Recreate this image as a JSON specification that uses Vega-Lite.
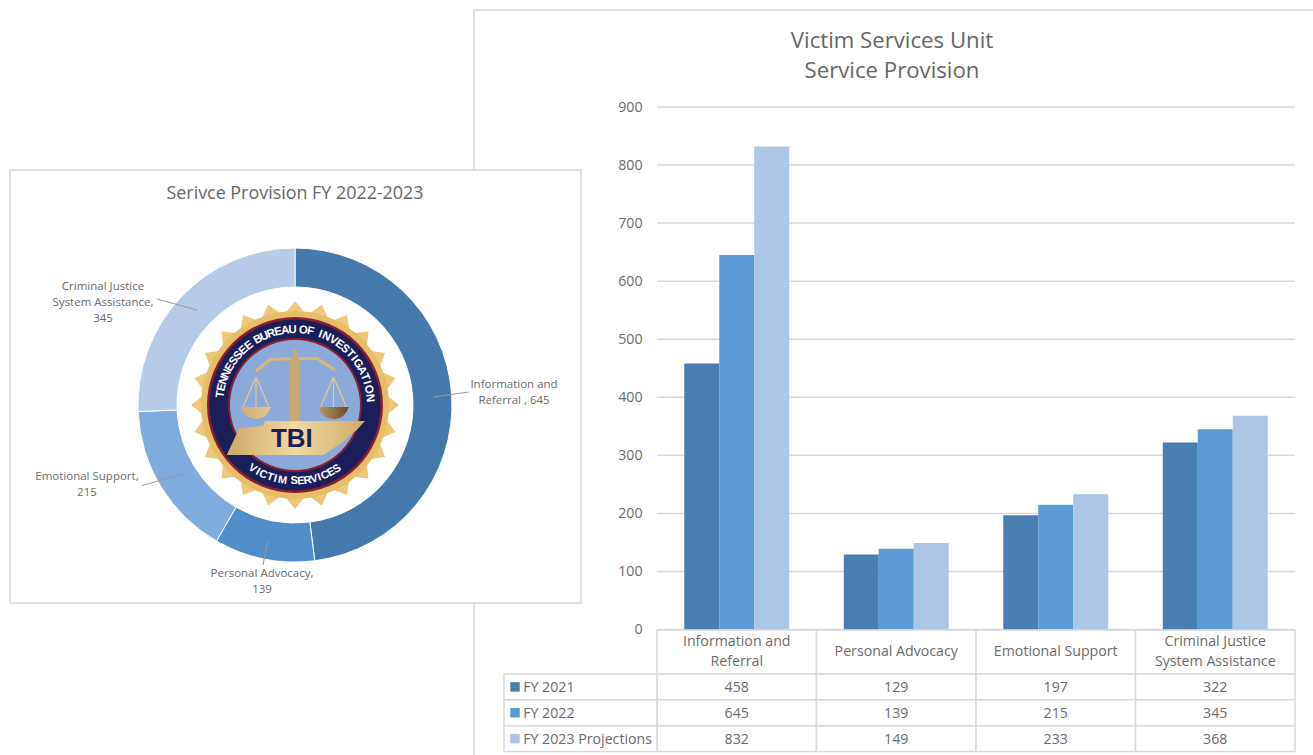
{
"$schema":"https://vega.github.io/schema/vega-lite/v6.json",
"width":1313,"height":755,"padding":0,"autosize":{"type":"none"},"background":"white",
"config":{"view":{"stroke":null},"text":{"font":"Open Sans","color":"#6b6b6b"}},
"datasets":{
"bars":[
{"category":"Information and Referral","series":"FY 2021","value":458},{"category":"Information and Referral","series":"FY 2022","value":645},{"category":"Information and Referral","series":"FY 2023 Projections","value":832},
{"category":"Personal Advocacy","series":"FY 2021","value":129},{"category":"Personal Advocacy","series":"FY 2022","value":139},{"category":"Personal Advocacy","series":"FY 2023 Projections","value":149},
{"category":"Emotional Support","series":"FY 2021","value":197},{"category":"Emotional Support","series":"FY 2022","value":215},{"category":"Emotional Support","series":"FY 2023 Projections","value":233},
{"category":"Criminal Justice System Assistance","series":"FY 2021","value":322},{"category":"Criminal Justice System Assistance","series":"FY 2022","value":345},{"category":"Criminal Justice System Assistance","series":"FY 2023 Projections","value":368}],
"heads":[{"category":"Information and Referral","head":"Information and\nReferral","lines":2},{"category":"Personal Advocacy","head":"Personal Advocacy","lines":1},{"category":"Emotional Support","head":"Emotional Support","lines":1},{"category":"Criminal Justice System Assistance","head":"Criminal Justice\nSystem Assistance","lines":2}],
"ticks":[{"v":0},{"v":100},{"v":200},{"v":300},{"v":400},{"v":500},{"v":600},{"v":700},{"v":800},{"v":900}],
"donut":[{"slice":"Information and Referral","value":645,"rank":1},{"slice":"Personal Advocacy","value":139,"rank":2},{"slice":"Emotional Support","value":215,"rank":3},{"slice":"Criminal Justice System Assistance","value":345,"rank":4}],
"one":[{"k":"seal"}],
"top":[{"ch":"T","i":0},{"ch":"E","i":1},{"ch":"N","i":2},{"ch":"N","i":3},{"ch":"E","i":4},{"ch":"S","i":5},{"ch":"S","i":6},{"ch":"E","i":7},{"ch":"E","i":8},{"ch":"B","i":9.5},{"ch":"U","i":10.5},{"ch":"R","i":11.5},{"ch":"E","i":12.5},{"ch":"A","i":13.5},{"ch":"U","i":14.5},{"ch":"O","i":16},{"ch":"F","i":17},{"ch":"I","i":18.4},{"ch":"N","i":19.3},{"ch":"V","i":20.4},{"ch":"E","i":21.4},{"ch":"S","i":22.4},{"ch":"T","i":23.4},{"ch":"I","i":24.2},{"ch":"G","i":25.1},{"ch":"A","i":26.2},{"ch":"T","i":27.2},{"ch":"I","i":28},{"ch":"O","i":29},{"ch":"N","i":30.2}],
"bottom":[{"ch":"V","i":0},{"ch":"I","i":0.9},{"ch":"C","i":1.8},{"ch":"T","i":2.9},{"ch":"I","i":3.7},{"ch":"M","i":4.8},{"ch":"S","i":6.5},{"ch":"E","i":7.5},{"ch":"R","i":8.5},{"ch":"V","i":9.5},{"ch":"I","i":10.3},{"ch":"C","i":11.2},{"ch":"E","i":12.2},{"ch":"S","i":13.2}]
},
"resolve":{"scale":{"x":"independent","y":"independent","theta":"independent","color":"independent","angle":"independent","xOffset":"independent"},"axis":{"x":"independent","y":"independent"}},
"layer":[
{"data":{"name":"one"},"mark":{"type":"rect","fillOpacity":0,"stroke":"#d9d9d9","strokeWidth":1.5},"encoding":{
 "x":{"datum":0,"type":"quantitative","axis":null,"scale":{"domain":[0,1],"range":[474,1340]}},"x2":{"datum":1},
 "y":{"datum":0,"type":"quantitative","axis":null,"scale":{"domain":[0,1],"range":[10,780]}},"y2":{"datum":1}}},
{"data":{"name":"one"},"mark":{"type":"text","fontSize":22.2,"lineBreak":"\n","lineHeight":30,"align":"center","baseline":"middle","color":"#666666"},"encoding":{
 "text":{"value":"Victim Services Unit\nService Provision"},
 "x":{"datum":0.5,"type":"quantitative","axis":null,"scale":{"domain":[0,1],"range":[474,1310]}},
 "y":{"datum":0.5,"type":"quantitative","axis":null,"scale":{"domain":[0,1],"range":[11,71]}}}},
{"data":{"name":"ticks"},"mark":{"type":"rule","color":"#d9d9d9","strokeWidth":1.5},"encoding":{
 "y":{"field":"v","type":"quantitative","scale":{"domain":[0,900],"range":[629.5,107]},
  "axis":{"orient":"left","offset":-657,"values":[0,100,200,300,400,500,600,700,800,900],"domain":false,"ticks":false,"grid":false,"title":null,"labelFont":"Open Sans","labelFontSize":14.2,"labelColor":"#6b6b6b","labelPadding":15}},
 "x":{"datum":0,"type":"quantitative","axis":null,"scale":{"domain":[0,1],"range":[657,1295]}},"x2":{"datum":1}}},
{"data":{"name":"bars"},"mark":{"type":"bar"},"encoding":{
 "x":{"field":"category","type":"nominal","axis":null,"sort":null,"scale":{"type":"band","domain":["Information and Referral","Personal Advocacy","Emotional Support","Criminal Justice System Assistance"],"range":[657,1295],"paddingInner":0.342,"paddingOuter":0.171}},
 "xOffset":{"field":"series","type":"nominal","scale":{"domain":["FY 2021","FY 2022","FY 2023 Projections"]}},
 "y":{"field":"value","type":"quantitative","axis":null,"scale":{"domain":[0,900],"range":[629.5,107]}},
 "color":{"field":"series","type":"nominal","legend":null,"scale":{"domain":["FY 2021","FY 2022","FY 2023 Projections"],"range":["#4a7eb0","#5b9bd5","#adc6e6"]}}}},
{"data":{"name":"heads"},"mark":{"type":"rect","fill":"white","stroke":"#d9d9d9","strokeWidth":1.5},"encoding":{
 "x":{"field":"category","type":"nominal","axis":null,"scale":{"type":"band","domain":["Information and Referral","Personal Advocacy","Emotional Support","Criminal Justice System Assistance"],"range":[657,1295],"padding":0}},
 "y":{"datum":0,"type":"quantitative","axis":null,"scale":{"domain":[0,1],"range":[630,674]}},"y2":{"datum":1}}},
{"data":{"name":"heads"},"transform":[{"filter":"datum.lines===2"}],"mark":{"type":"text","fontSize":14.2,"lineBreak":"\n","lineHeight":20,"align":"center","baseline":"middle"},"encoding":{
 "text":{"field":"head"},
 "x":{"field":"category","type":"nominal","axis":null,"scale":{"type":"band","domain":["Information and Referral","Personal Advocacy","Emotional Support","Criminal Justice System Assistance"],"range":[657,1295],"padding":0}},
 "y":{"datum":0.5,"type":"quantitative","axis":null,"scale":{"domain":[0,1],"range":[620,664]}}}},
{"data":{"name":"heads"},"transform":[{"filter":"datum.lines===1"}],"mark":{"type":"text","fontSize":14.2,"align":"center","baseline":"middle"},"encoding":{
 "text":{"field":"head"},
 "x":{"field":"category","type":"nominal","axis":null,"scale":{"type":"band","domain":["Information and Referral","Personal Advocacy","Emotional Support","Criminal Justice System Assistance"],"range":[657,1295],"padding":0}},
 "y":{"datum":0.5,"type":"quantitative","axis":null,"scale":{"domain":[0,1],"range":[630,674]}}}},
{"data":{"name":"bars"},"mark":{"type":"rect","fill":"white","stroke":"#d9d9d9","strokeWidth":1.5},"encoding":{
 "x":{"field":"category","type":"nominal","axis":null,"scale":{"type":"band","domain":["Information and Referral","Personal Advocacy","Emotional Support","Criminal Justice System Assistance"],"range":[657,1295],"padding":0}},
 "y":{"field":"series","type":"nominal","axis":null,"scale":{"type":"band","domain":["FY 2021","FY 2022","FY 2023 Projections"],"range":[674,751.5],"padding":0}}}},
{"data":{"name":"bars"},"mark":{"type":"text","fontSize":14.2,"align":"center","baseline":"middle"},"encoding":{
 "text":{"field":"value","type":"quantitative"},
 "x":{"field":"category","type":"nominal","axis":null,"scale":{"type":"band","domain":["Information and Referral","Personal Advocacy","Emotional Support","Criminal Justice System Assistance"],"range":[657,1295],"padding":0}},
 "y":{"field":"series","type":"nominal","axis":null,"scale":{"type":"band","domain":["FY 2021","FY 2022","FY 2023 Projections"],"range":[675,752.5],"padding":0}}}},
{"data":{"name":"bars"},"transform":[{"filter":"datum.category==='Personal Advocacy'"}],"mark":{"type":"rect","fill":"white","stroke":"#d9d9d9","strokeWidth":1.5},"encoding":{
 "x":{"datum":0,"type":"quantitative","axis":null,"scale":{"domain":[0,1],"range":[504,657]}},"x2":{"datum":1},
 "y":{"field":"series","type":"nominal","axis":null,"scale":{"type":"band","domain":["FY 2021","FY 2022","FY 2023 Projections"],"range":[674,751.5],"padding":0}}}},
{"data":{"name":"bars"},"transform":[{"filter":"datum.category==='Personal Advocacy'"}],"mark":{"type":"point","shape":"square","filled":true,"size":90,"opacity":1},"encoding":{
 "x":{"datum":0.072,"type":"quantitative","axis":null,"scale":{"domain":[0,1],"range":[504,657]}},
 "y":{"field":"series","type":"nominal","axis":null,"scale":{"type":"band","domain":["FY 2021","FY 2022","FY 2023 Projections"],"range":[674,751.5],"padding":0}},
 "color":{"field":"series","type":"nominal","legend":null,"scale":{"domain":["FY 2021","FY 2022","FY 2023 Projections"],"range":["#4a7eb0","#5b9bd5","#adc6e6"]}}}},
{"data":{"name":"bars"},"transform":[{"filter":"datum.category==='Personal Advocacy'"}],"mark":{"type":"text","fontSize":14.2,"align":"left","baseline":"middle"},"encoding":{
 "text":{"field":"series"},
 "x":{"datum":0.125,"type":"quantitative","axis":null,"scale":{"domain":[0,1],"range":[504,657]}},
 "y":{"field":"series","type":"nominal","axis":null,"scale":{"type":"band","domain":["FY 2021","FY 2022","FY 2023 Projections"],"range":[675,752.5],"padding":0}}}},
{"data":{"name":"one"},"mark":{"type":"rect","fill":"white","stroke":"#d9d9d9","strokeWidth":1.5},"encoding":{
 "x":{"datum":0,"type":"quantitative","axis":null,"scale":{"domain":[0,1],"range":[10,581]}},"x2":{"datum":1},
 "y":{"datum":0,"type":"quantitative","axis":null,"scale":{"domain":[0,1],"range":[170,603]}},"y2":{"datum":1}}},
{"data":{"name":"one"},"mark":{"type":"text","fontSize":17.9,"align":"center","baseline":"middle","color":"#666666"},"encoding":{
 "text":{"value":"Serivce Provision FY 2022-2023"},
 "x":{"datum":0,"type":"quantitative","axis":null,"scale":{"domain":[-1,1],"range":[138,452]}},
 "y":{"datum":1.344,"type":"quantitative","axis":null,"scale":{"domain":[-1,1],"range":[562,248]}}}},
{"data":{"name":"donut"},"mark":{"type":"arc","innerRadius":118,"outerRadius":157,"stroke":"white","strokeWidth":1},"encoding":{
 "theta":{"field":"value","type":"quantitative","stack":true},
 "order":{"field":"rank","type":"quantitative"},
 "color":{"field":"slice","type":"nominal","legend":null,"scale":{"domain":["Information and Referral","Personal Advocacy","Emotional Support","Criminal Justice System Assistance"],"range":["#4679ab","#518dc9","#80abdd","#b5cbe7"]}},
 "x":{"datum":0,"type":"quantitative","axis":null,"scale":{"domain":[-1,1],"range":[138,452]}},
 "y":{"datum":0,"type":"quantitative","axis":null,"scale":{"domain":[-1,1],"range":[562,248]}}}},
{"data":{"name":"one"},"mark":{"type":"point","filled":true,"opacity":1,"size":4,"color":"#ecc878","shape":"M0,-104 L11.7,-89.2 L26.9,-100.5 L34.4,-83.2 L52,-90.1 L54.8,-71.4 L73.5,-73.5 L71.4,-54.8 L90.1,-52 L83.2,-34.4 L100.5,-26.9 L89.2,-11.7 L104,0 L89.2,11.7 L100.5,26.9 L83.2,34.4 L90.1,52 L71.4,54.8 L73.5,73.5 L54.8,71.4 L52,90.1 L34.4,83.2 L26.9,100.5 L11.7,89.2 L0,104 L-11.7,89.2 L-26.9,100.5 L-34.4,83.2 L-52,90.1 L-54.8,71.4 L-73.5,73.5 L-71.4,54.8 L-90.1,52 L-83.2,34.4 L-100.5,26.9 L-89.2,11.7 L-104,0 L-89.2,-11.7 L-100.5,-26.9 L-83.2,-34.4 L-90.1,-52 L-71.4,-54.8 L-73.5,-73.5 L-54.8,-71.4 L-52,-90.1 L-34.4,-83.2 L-26.9,-100.5 L-11.7,-89.2 Z"},"encoding":{
 "x":{"datum":0,"type":"quantitative","axis":null,"scale":{"domain":[-1,1],"range":[138,452]}},
 "y":{"datum":0,"type":"quantitative","axis":null,"scale":{"domain":[-1,1],"range":[562,248]}}}},
{"data":{"name":"one"},"mark":{"type":"point","filled":true,"opacity":1,"shape":"circle","size":35344,"color":"#e6bd68"},"encoding":{
 "x":{"datum":0,"type":"quantitative","axis":null,"scale":{"domain":[-1,1],"range":[138,452]}},
 "y":{"datum":0,"type":"quantitative","axis":null,"scale":{"domain":[-1,1],"range":[562,248]}}}},
{"data":{"name":"one"},"mark":{"type":"point","filled":true,"opacity":1,"shape":"circle","size":30976,"color":"#8a1f2e"},"encoding":{
 "x":{"datum":0,"type":"quantitative","axis":null,"scale":{"domain":[-1,1],"range":[138,452]}},
 "y":{"datum":0,"type":"quantitative","axis":null,"scale":{"domain":[-1,1],"range":[562,248]}}}},
{"data":{"name":"one"},"mark":{"type":"point","filled":true,"opacity":1,"shape":"circle","size":29241,"color":"#1b1e58"},"encoding":{
 "x":{"datum":0,"type":"quantitative","axis":null,"scale":{"domain":[-1,1],"range":[138,452]}},
 "y":{"datum":0,"type":"quantitative","axis":null,"scale":{"domain":[-1,1],"range":[562,248]}}}},
{"data":{"name":"one"},"mark":{"type":"point","filled":true,"opacity":1,"shape":"circle","size":17956,"color":"#8a1f2e"},"encoding":{
 "x":{"datum":0,"type":"quantitative","axis":null,"scale":{"domain":[-1,1],"range":[138,452]}},
 "y":{"datum":0,"type":"quantitative","axis":null,"scale":{"domain":[-1,1],"range":[562,248]}}}},
{"data":{"name":"one"},"mark":{"type":"point","filled":true,"opacity":1,"shape":"circle","size":16900,"color":"#8ba9d9"},"encoding":{
 "x":{"datum":0,"type":"quantitative","axis":null,"scale":{"domain":[-1,1],"range":[138,452]}},
 "y":{"datum":0,"type":"quantitative","axis":null,"scale":{"domain":[-1,1],"range":[562,248]}}}},
{"data":{"name":"one"},"mark":{"type":"point","filled":false,"opacity":1,"size":4,"stroke":"#d9b676","strokeWidth":3,"shape":"M-39,-34 L-24.3,-45.7 L21.7,-46.7 L40,-35"},"encoding":{
 "x":{"datum":0,"type":"quantitative","axis":null,"scale":{"domain":[-1,1],"range":[138,452]}},
 "y":{"datum":0,"type":"quantitative","axis":null,"scale":{"domain":[-1,1],"range":[562,248]}}}},
{"data":{"name":"one"},"mark":{"type":"point","filled":false,"opacity":1,"size":4,"stroke":"#e3c98c","strokeWidth":1.2,"shape":"M-39,-28 L-52,2 M-39,-28 L-26,2 M-39,-28 L-39,2 M38.5,-28 L25.5,2 M38.5,-28 L51.5,2 M38.5,-28 L38.5,2"},"encoding":{
 "x":{"datum":0,"type":"quantitative","axis":null,"scale":{"domain":[-1,1],"range":[138,452]}},
 "y":{"datum":0,"type":"quantitative","axis":null,"scale":{"domain":[-1,1],"range":[562,248]}}}},
{"data":{"name":"one"},"mark":{"type":"point","filled":true,"opacity":1,"size":4,"fill":{"gradient":"linear","x1":0,"x2":1,"y1":0,"y2":0,"stops":[{"offset":0,"color":"#cfae70"},{"offset":0.5,"color":"#f0dca6"},{"offset":1,"color":"#6e4a20"}]},"shape":"M-54,2 L-24,2 Q-28,14 -39,14 Q-50,14 -54,2 Z M23.5,2 L53.5,2 Q50,14 38.5,14 Q27,14 23.5,2 Z"},"encoding":{
 "x":{"datum":0,"type":"quantitative","axis":null,"scale":{"domain":[-1,1],"range":[138,452]}},
 "y":{"datum":0,"type":"quantitative","axis":null,"scale":{"domain":[-1,1],"range":[562,248]}}}},
{"data":{"name":"one"},"mark":{"type":"point","filled":true,"opacity":1,"size":4,"fill":"#c9a970","shape":"M-5,18 L-5,-44 L-2,-50 L-2,-54 L0,-57 L2,-54 L2,-50 L5,-44 L5,18 Z M-6,-34 L6,-34 L6,-31 L-6,-31 Z M-6,4 L6,4 L6,7 L-6,7 Z"},"encoding":{
 "x":{"datum":0,"type":"quantitative","axis":null,"scale":{"domain":[-1,1],"range":[138,452]}},
 "y":{"datum":0,"type":"quantitative","axis":null,"scale":{"domain":[-1,1],"range":[562,248]}}}},
{"data":{"name":"one"},"mark":{"type":"point","filled":true,"opacity":1,"size":4,"fill":{"gradient":"linear","x1":0,"x2":1,"y1":0,"y2":0,"stops":[{"offset":0,"color":"#cfa866"},{"offset":0.5,"color":"#f0d9a4"},{"offset":1,"color":"#d2aa68"}]},"shape":"M-68.3,50 L-55.7,23.3 L-31.7,20.7 L-30,16 L70,16 L61.7,25 L55,30 L48.3,36.7 L33.3,46.7 L28.3,50 Z"},"encoding":{
 "x":{"datum":0,"type":"quantitative","axis":null,"scale":{"domain":[-1,1],"range":[138,452]}},
 "y":{"datum":0,"type":"quantitative","axis":null,"scale":{"domain":[-1,1],"range":[562,248]}}}},
{"data":{"name":"one"},"mark":{"type":"text","font":"Liberation Sans","fontWeight":"bold","fontSize":26,"align":"center","baseline":"middle","color":"#1b1e58"},"encoding":{
 "text":{"value":"TBI"},
 "x":{"datum":-0.02,"type":"quantitative","axis":null,"scale":{"domain":[-1,1],"range":[138,452]}},
 "y":{"datum":-0.215,"type":"quantitative","axis":null,"scale":{"domain":[-1,1],"range":[562,248]}}}},
{"data":{"name":"top"},"mark":{"type":"text","font":"Liberation Sans","fontWeight":"bold","fontSize":11.5,"radius":75,"align":"center","baseline":"middle","color":"white"},"encoding":{
 "text":{"field":"ch"},
 "theta":{"field":"i","type":"quantitative","stack":null,"scale":{"domain":[0,30.2],"range":[-1.43,1.48]}},
 "angle":{"field":"i","type":"quantitative","scale":{"domain":[0,30.2],"range":[-82,85]}},
 "x":{"datum":0,"type":"quantitative","axis":null,"scale":{"domain":[-1,1],"range":[138,452]}},
 "y":{"datum":0,"type":"quantitative","axis":null,"scale":{"domain":[-1,1],"range":[562,248]}}}},
{"data":{"name":"bottom"},"mark":{"type":"text","font":"Liberation Sans","fontWeight":"bold","fontSize":11,"radius":76.5,"align":"center","baseline":"middle","color":"white"},"encoding":{
 "text":{"field":"ch"},
 "theta":{"field":"i","type":"quantitative","stack":null,"scale":{"domain":[0,13.2],"range":[3.73,2.56]}},
 "angle":{"field":"i","type":"quantitative","scale":{"domain":[0,13.2],"range":[34,-35]}},
 "x":{"datum":0,"type":"quantitative","axis":null,"scale":{"domain":[-1,1],"range":[138,452]}},
 "y":{"datum":0,"type":"quantitative","axis":null,"scale":{"domain":[-1,1],"range":[562,248]}}}},
{"data":{"name":"one"},"mark":{"type":"rule","color":"#999999","strokeWidth":1},"encoding":{
 "x":{"datum":0.885,"type":"quantitative","axis":null,"scale":{"domain":[-1,1],"range":[138,452]}},"x2":{"datum":1.108},
 "y":{"datum":0.051,"type":"quantitative","axis":null,"scale":{"domain":[-1,1],"range":[562,248]}},"y2":{"datum":0.083}}},
{"data":{"name":"one"},"mark":{"type":"rule","color":"#999999","strokeWidth":1},"encoding":{
 "x":{"datum":-0.624,"type":"quantitative","axis":null,"scale":{"domain":[-1,1],"range":[138,452]}},"x2":{"datum":-0.879},
 "y":{"datum":0.605,"type":"quantitative","axis":null,"scale":{"domain":[-1,1],"range":[562,248]}},"y2":{"datum":0.675}}},
{"data":{"name":"one"},"mark":{"type":"rule","color":"#999999","strokeWidth":1},"encoding":{
 "x":{"datum":-0.713,"type":"quantitative","axis":null,"scale":{"domain":[-1,1],"range":[138,452]}},"x2":{"datum":-0.975},
 "y":{"datum":-0.439,"type":"quantitative","axis":null,"scale":{"domain":[-1,1],"range":[562,248]}},"y2":{"datum":-0.513}}},
{"data":{"name":"one"},"mark":{"type":"rule","color":"#999999","strokeWidth":1},"encoding":{
 "x":{"datum":-0.172,"type":"quantitative","axis":null,"scale":{"domain":[-1,1],"range":[138,452]}},"x2":{"datum":-0.204},
 "y":{"datum":-0.866,"type":"quantitative","axis":null,"scale":{"domain":[-1,1],"range":[562,248]}},"y2":{"datum":-1.019}}},
{"data":{"name":"one"},"mark":{"type":"text","fontSize":11.5,"lineBreak":"\n","lineHeight":16,"align":"center","baseline":"middle"},"encoding":{
 "text":{"value":"Information and\nReferral , 645"},
 "x":{"datum":1.395,"type":"quantitative","axis":null,"scale":{"domain":[-1,1],"range":[138,452]}},
 "y":{"datum":0.127,"type":"quantitative","axis":null,"scale":{"domain":[-1,1],"range":[562,248]}}}},
{"data":{"name":"one"},"mark":{"type":"text","fontSize":11.5,"lineBreak":"\n","lineHeight":16,"align":"center","baseline":"middle"},"encoding":{
 "text":{"value":"Criminal Justice\nSystem Assistance,\n345"},
 "x":{"datum":-1.223,"type":"quantitative","axis":null,"scale":{"domain":[-1,1],"range":[138,452]}},
 "y":{"datum":0.752,"type":"quantitative","axis":null,"scale":{"domain":[-1,1],"range":[562,248]}}}},
{"data":{"name":"one"},"mark":{"type":"text","fontSize":11.5,"lineBreak":"\n","lineHeight":16,"align":"center","baseline":"middle"},"encoding":{
 "text":{"value":"Emotional Support,\n215"},
 "x":{"datum":-1.325,"type":"quantitative","axis":null,"scale":{"domain":[-1,1],"range":[138,452]}},
 "y":{"datum":-0.459,"type":"quantitative","axis":null,"scale":{"domain":[-1,1],"range":[562,248]}}}},
{"data":{"name":"one"},"mark":{"type":"text","fontSize":11.5,"lineBreak":"\n","lineHeight":16,"align":"center","baseline":"middle"},"encoding":{
 "text":{"value":"Personal Advocacy,\n139"},
 "x":{"datum":-0.21,"type":"quantitative","axis":null,"scale":{"domain":[-1,1],"range":[138,452]}},
 "y":{"datum":-1.076,"type":"quantitative","axis":null,"scale":{"domain":[-1,1],"range":[562,248]}}}}
]
}
